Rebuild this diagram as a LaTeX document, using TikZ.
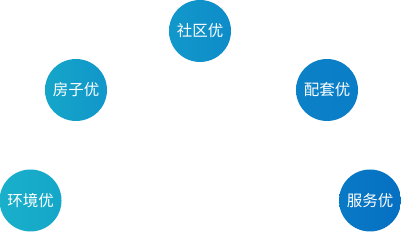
\documentclass[tikz,border=0pt]{standalone}
\usepackage{fontspec}
\newfontfamily\cjk{Noto Sans CJK SC}
\definecolor{cA}{HTML}{19B0CA}
\definecolor{cB}{HTML}{15A6C9}
\definecolor{cC}{HTML}{1092CA}
\definecolor{cD}{HTML}{0A7DC7}
\definecolor{cE}{HTML}{0670C2}
\tikzset{
  bubble/.style n args={2}{circle, minimum size=62pt, inner sep=0pt, left color=#1, right color=#2, text=white, font=\cjk\fontsize{15.5pt}{18pt}\selectfont}
}
\begin{document}
\begin{tikzpicture}[x=1pt,y=1pt]
\useasboundingbox (0,0) rectangle (401,232);
\node[bubble={cA}{cB}] (env) at (30.5,31.5) {环境优};
\node[bubble={cB}{cC!80!cB}] (house) at (76,142) {房子优};
\node[bubble={cC!70!cB}{cC!70!cD}] (comm) at (200,201) {社区优};
\node[bubble={cD!80!cC}{cD}] (supp) at (327,142) {配套优};
\node[bubble={cD!70!cE}{cE}] (serv) at (370,31.5) {服务优};
\end{tikzpicture}
\end{document}
